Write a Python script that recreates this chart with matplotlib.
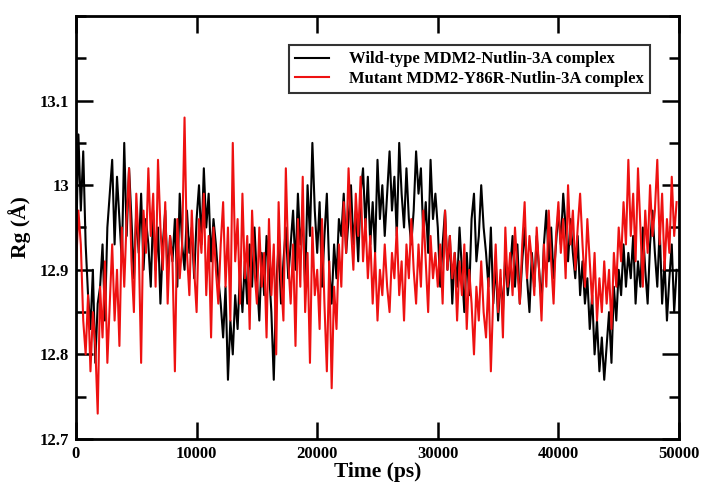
import numpy as np
import matplotlib.pyplot as plt
from matplotlib.ticker import MultipleLocator

# Rg values (Angstrom), one every 200 ps
rg_wild = [
    12.92, 13.06, 12.97, 13.04, 12.93, 12.87, 12.83, 12.90, 12.79, 12.86,
    12.88, 12.93, 12.84, 12.95, 12.99, 13.03, 12.93, 13.01, 12.96, 12.91,
    13.05, 12.94, 13.02, 12.96, 12.89, 12.97, 12.92, 12.99, 12.90, 12.96,
    12.93, 12.88, 12.97, 12.90, 12.95, 12.86, 12.93, 12.97, 12.89, 12.94,
    12.91, 12.96, 12.88, 12.99, 12.93, 12.90, 12.97, 12.92, 12.95, 12.89,
    12.96, 13.00, 12.93, 13.02, 12.95, 12.99, 12.91, 12.96, 12.93, 12.89,
    12.86, 12.82, 12.88, 12.77, 12.84, 12.80, 12.87, 12.83, 12.90, 12.85,
    12.91, 12.86, 12.93, 12.88, 12.95, 12.89, 12.84, 12.92, 12.87, 12.94,
    12.90, 12.85, 12.77, 12.88, 12.93, 12.86, 12.91, 12.95, 12.89, 12.93,
    12.97, 12.90, 12.99, 12.93, 12.96, 12.88, 13.00, 12.94, 13.05, 12.97,
    12.92, 12.98, 12.88, 12.94, 12.99, 12.90, 12.86, 12.93, 12.89, 12.96,
    12.94, 12.99, 12.92, 12.96, 13.00, 12.93, 12.97, 12.91, 12.99, 13.02,
    12.95, 13.01, 12.93, 12.98, 12.92, 13.03, 12.96, 13.00, 12.94, 12.99,
    13.04, 12.97, 13.01, 12.94, 13.05, 12.99, 12.95, 13.02, 12.96, 12.93,
    12.97, 13.04, 12.99, 13.02, 12.94, 12.98, 12.92, 13.03, 12.96, 12.99,
    12.95, 12.88, 12.93, 12.97, 12.90, 12.94, 12.86, 12.92, 12.88, 12.95,
    12.90, 12.85, 12.92, 12.87, 12.96, 12.99, 12.91, 12.94, 13.00, 12.95,
    12.92, 12.88, 12.95, 12.86, 12.91, 12.84, 12.89, 12.85, 12.92, 12.87,
    12.90, 12.94, 12.88, 12.93, 12.86, 12.91, 12.95, 12.89, 12.85, 12.92,
    12.88, 12.94, 12.90, 12.86, 12.93, 12.97, 12.91, 12.95, 12.89, 12.93,
    12.97, 12.93, 12.99, 12.95, 12.91, 12.96, 12.92, 12.89, 12.94, 12.87,
    12.91, 12.86, 12.89, 12.83, 12.87, 12.80, 12.84, 12.78, 12.82, 12.77,
    12.81, 12.85, 12.79, 12.88, 12.84, 12.90, 12.87, 12.93, 12.88, 12.92,
    12.89, 12.94, 12.86, 12.91, 12.88, 12.95, 12.90, 12.86, 12.93, 12.97,
    12.92, 12.88, 12.95, 12.86, 12.91, 12.84, 12.89, 12.93, 12.85, 12.90,
]

rg_mutant = [
    12.90, 12.97, 12.93, 12.84, 12.80, 12.87, 12.78, 12.85, 12.81, 12.73,
    12.88, 12.82, 12.91, 12.79, 12.86, 12.93, 12.84, 12.90, 12.81, 12.95,
    12.88, 12.96, 13.02, 12.91, 12.85, 12.99, 12.93, 12.79, 12.97, 12.92,
    13.02, 12.94, 12.99, 12.88, 13.03, 12.95, 12.90, 12.98, 12.86, 12.94,
    12.91, 12.78, 12.96, 12.89, 12.93, 13.08, 12.92, 12.87, 12.97, 12.90,
    12.85, 12.96, 12.92, 12.99, 12.87, 12.94, 12.82, 12.95, 12.90, 12.86,
    12.93, 12.98, 12.88, 12.95, 12.84, 13.05, 12.91, 12.96, 12.86, 12.99,
    12.89, 12.94, 12.83, 12.97, 12.90, 12.86, 12.95, 12.88, 12.92, 12.82,
    12.96, 12.87, 12.93, 12.80, 12.98, 12.89, 12.84, 13.02, 12.91, 12.86,
    12.93, 12.81, 12.96, 12.88, 13.01, 12.85, 12.92, 12.79, 12.95, 12.87,
    12.90, 12.83, 12.96, 12.86, 12.78, 12.91, 12.76, 12.88, 12.83, 12.93,
    12.88, 12.98, 12.92, 13.02, 12.95, 12.90, 12.99, 12.94, 13.01, 12.91,
    12.96, 12.89, 12.94, 12.86, 12.92, 12.84, 12.90, 12.87, 12.93, 12.88,
    12.85, 12.92, 12.89, 12.95, 12.87, 12.91, 12.84, 12.93, 12.89, 12.96,
    12.90, 12.86, 12.93, 12.88, 12.97, 12.91, 12.85, 12.94, 12.89, 12.92,
    12.88, 12.93, 12.86, 12.97, 12.90, 12.94, 12.89, 12.92, 12.84, 12.91,
    12.87, 12.93, 12.83, 12.90, 12.86, 12.80, 12.88, 12.84, 12.91, 12.85,
    12.82, 12.89, 12.78, 12.87, 12.93, 12.85, 12.90, 12.82, 12.95, 12.88,
    12.92, 12.87, 12.95, 12.90, 12.86, 12.93, 12.98, 12.89, 12.94, 12.91,
    12.87, 12.95, 12.90, 12.84, 12.93, 12.88, 12.97, 12.91, 12.86, 12.94,
    12.98, 12.92, 12.96, 12.89, 13.00, 12.93, 12.97, 12.90, 12.95, 12.99,
    12.93, 12.88, 12.96, 12.91, 12.86, 12.92, 12.84, 12.89, 12.85, 12.91,
    12.86, 12.90, 12.83, 12.92, 12.88, 12.95, 12.91, 12.98, 12.93, 13.03,
    12.94, 12.99, 12.91, 13.02, 12.95, 12.88, 12.97, 12.92, 13.00, 12.94,
    12.97, 13.03, 12.93, 12.99, 12.90, 12.96, 12.92, 13.01, 12.94, 12.98,
]

step_ps = 200
time_wild = np.arange(len(rg_wild)) * step_ps
time_mutant = np.arange(len(rg_mutant)) * step_ps

plt.rcParams["font.family"] = "Liberation Serif"
plt.rcParams["font.weight"] = "bold"

fig = plt.figure(figsize=(7.03, 4.83), dpi=100)
ax = fig.add_axes([76 / 703, 44 / 483, 603 / 703, 423 / 483])

ax.plot(time_wild, rg_wild, color="black", lw=1.5, label="Wild-type MDM2-Nutlin-3A complex")
ax.plot(time_mutant, rg_mutant, color="#ee1111", lw=1.5, label="Mutant MDM2-Y86R-Nutlin-3A complex")

ax.set_xlim(0, 50000)
ax.set_ylim(12.7, 13.2)
ax.xaxis.set_major_locator(MultipleLocator(10000))
ax.yaxis.set_minor_locator(MultipleLocator(0.05))
ax.set_yticks([12.7, 12.8, 12.9, 13.0, 13.1])
ax.set_yticklabels(["12.7", "12.8", "12.9", "13", "13.1"])

ax.tick_params(which="both", direction="in", top=True, right=True, width=1.8,
               labelsize=12)
ax.tick_params(which="major", length=12, pad=5)
ax.tick_params(which="minor", length=7)
for s in ax.spines.values():
    s.set_linewidth(2)

ax.set_xlabel("Time (ps)", fontsize=15.5, fontweight="bold", labelpad=0)
ax.set_ylabel("Rg (Å)", fontsize=15.5, fontweight="bold", labelpad=6)

leg = ax.legend(loc="upper right", bbox_to_anchor=(0.952, 0.932), fontsize=12,
                frameon=True, fancybox=False, handlelength=2.0,
                borderpad=0.4, labelspacing=0.2, handletextpad=1.2,
                borderaxespad=0)
leg.get_frame().set_edgecolor("black")
leg.get_frame().set_linewidth(1.5)
for line in leg.get_lines():
    line.set_linewidth(1.5)

fig.savefig("out.png", dpi=100)
